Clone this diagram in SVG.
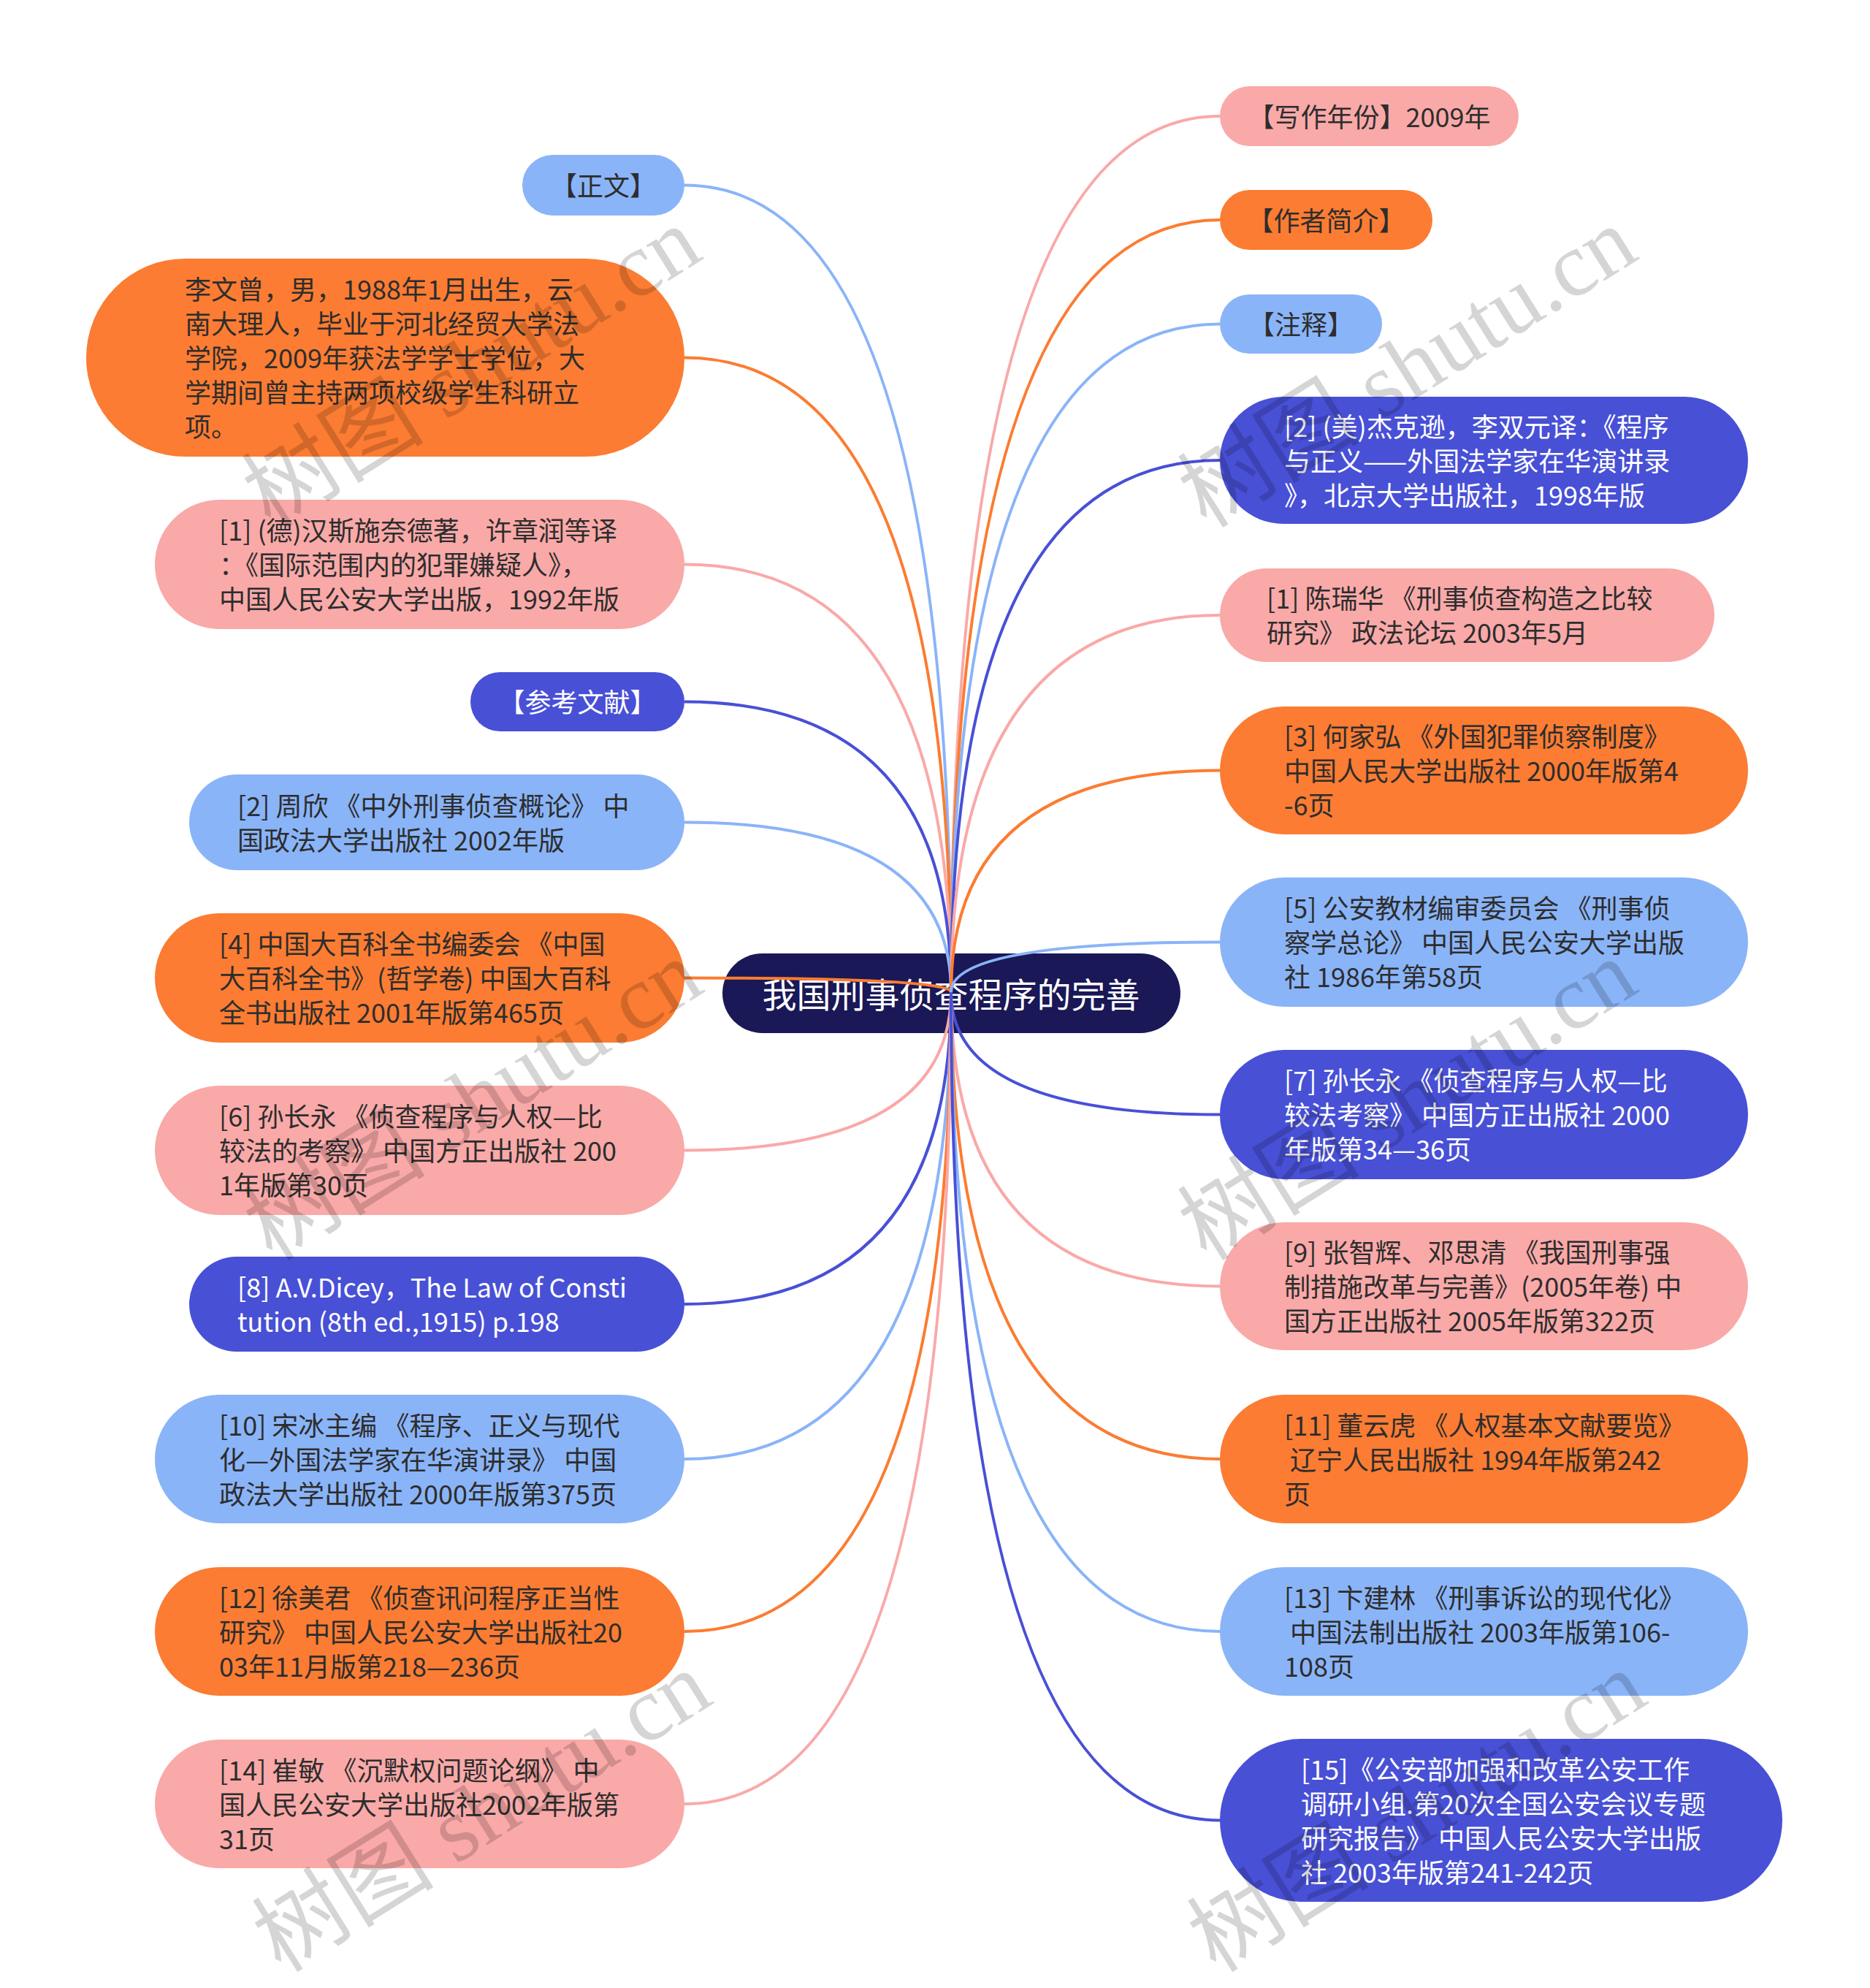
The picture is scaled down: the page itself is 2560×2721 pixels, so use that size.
<svg xmlns="http://www.w3.org/2000/svg" width="2560" height="2721" viewBox="0 0 2560 2721">
<style>
.lb{fill:#8AB4F8}.or{fill:#FB7C32}.pk{fill:#F9A9A8}.in{fill:#4850D6}.ct{fill:#1A1856}
.t{font-family:"Noto Sans CJK SC","Noto Sans",sans-serif;font-size:36px;fill:#2d2d2d;white-space:pre;dominant-baseline:central}
.w{fill:#ffffff}
.m{text-anchor:middle}
#connectors path{fill:none;stroke-width:4}
.slb{stroke:#8AB4F8}.sor{stroke:#FB7C32}.spk{stroke:#F9A9A8}.sin{stroke:#4850D6}
.wm{font-family:"Liberation Serif","Noto Sans CJK SC",serif;font-size:125px;fill:#000;opacity:0.16;text-anchor:middle;dominant-baseline:central}
</style>
<rect width="2560" height="2721" fill="#ffffff"/>
<g id="center">
<rect class="ct" x="989" y="1305" width="627" height="109" rx="54.5"/>
<text class="t w m" x="1302" y="1358" style="font-size:47px">我国刑事侦查程序的完善</text>
</g>
<g id="connectors">
<path class="slb" d="M1302 1358 Q1302 253.5 937 253.5"/>
<path class="sor" d="M1302 1358 Q1302 489.5 937 489.5"/>
<path class="spk" d="M1302 1358 Q1302 772.5 937 772.5"/>
<path class="sin" d="M1302 1358 Q1302 960.5 937 960.5"/>
<path class="slb" d="M1302 1358 Q1302 1125.5 937 1125.5"/>
<path class="sor" d="M1302 1358 Q1302 1338.5 937 1338.5"/>
<path class="spk" d="M1302 1358 Q1302 1574.5 937 1574.5"/>
<path class="sin" d="M1302 1358 Q1302 1785 937 1785"/>
<path class="slb" d="M1302 1358 Q1302 1997 937 1997"/>
<path class="sor" d="M1302 1358 Q1302 2233 937 2233"/>
<path class="spk" d="M1302 1358 Q1302 2469 937 2469"/>
<path class="spk" d="M1302 1358 Q1302 159 1670 159"/>
<path class="sor" d="M1302 1358 Q1302 301 1670 301"/>
<path class="slb" d="M1302 1358 Q1302 443.5 1670 443.5"/>
<path class="sin" d="M1302 1358 Q1302 630 1670 630"/>
<path class="spk" d="M1302 1358 Q1302 842 1670 842"/>
<path class="sor" d="M1302 1358 Q1302 1054.5 1670 1054.5"/>
<path class="slb" d="M1302 1358 Q1302 1289.5 1670 1289.5"/>
<path class="sin" d="M1302 1358 Q1302 1525.5 1670 1525.5"/>
<path class="spk" d="M1302 1358 Q1302 1760.5 1670 1760.5"/>
<path class="sor" d="M1302 1358 Q1302 1997 1670 1997"/>
<path class="slb" d="M1302 1358 Q1302 2233 1670 2233"/>
<path class="sin" d="M1302 1358 Q1302 2491.5 1670 2491.5"/>
</g>
<g id="n-zhengwen">
<rect class="lb" x="715" y="212" width="222" height="83" rx="41.5"/>
<text class="t m" x="826" y="252">【正文】</text>
</g>
<g id="n-author-bio">
<rect class="or" x="118" y="354" width="819" height="271" rx="135.5"/>
<text class="t" x="253" y="394">李文曾，男，1988年1月出生，云</text>
<text class="t" x="253" y="441">南大理人，毕业于河北经贸大学法</text>
<text class="t" x="253" y="488">学院，2009年获法学学士学位，大</text>
<text class="t" x="253" y="535">学期间曾主持两项校级学生科研立</text>
<text class="t" x="253" y="582">项。</text>
</g>
<g id="n-l1">
<rect class="pk" x="212" y="684" width="725" height="177" rx="88.5"/>
<text class="t" x="300" y="724">[1] (德)汉斯施奈德著，许章润等译</text>
<text class="t" x="300" y="771">：《国际范围内的犯罪嫌疑人》，</text>
<text class="t" x="300" y="818">中国人民公安大学出版，1992年版</text>
</g>
<g id="n-refs">
<rect class="in" x="644" y="920" width="293" height="81" rx="40.5"/>
<text class="t w m" x="790.5" y="959">【参考文献】</text>
</g>
<g id="n-l2">
<rect class="lb" x="259" y="1060" width="678" height="131" rx="65.5"/>
<text class="t" x="325" y="1101">[2] 周欣 《中外刑事侦查概论》 中</text>
<text class="t" x="325" y="1148">国政法大学出版社 2002年版</text>
</g>
<g id="n-l4">
<rect class="or" x="212" y="1250" width="725" height="177" rx="88.5"/>
<text class="t" x="300" y="1290">[4] 中国大百科全书编委会 《中国</text>
<text class="t" x="300" y="1337">大百科全书》(哲学卷) 中国大百科</text>
<text class="t" x="300" y="1384">全书出版社 2001年版第465页</text>
</g>
<g id="n-l6">
<rect class="pk" x="212" y="1486" width="725" height="177" rx="88.5"/>
<text class="t" x="300" y="1526">[6] 孙长永 《侦查程序与人权—比</text>
<text class="t" x="300" y="1573">较法的考察》 中国方正出版社 200</text>
<text class="t" x="300" y="1620">1年版第30页</text>
</g>
<g id="n-l8">
<rect class="in" x="259" y="1720" width="678" height="130" rx="65"/>
<text class="t w" x="325" y="1760">[8] A.V.Dicey，The Law of Consti</text>
<text class="t w" x="325" y="1807">tution (8th ed.,1915) p.198</text>
</g>
<g id="n-l10">
<rect class="lb" x="212" y="1909" width="725" height="176" rx="88"/>
<text class="t" x="300" y="1949">[10] 宋冰主编 《程序、正义与现代</text>
<text class="t" x="300" y="1996">化—外国法学家在华演讲录》 中国</text>
<text class="t" x="300" y="2043">政法大学出版社 2000年版第375页</text>
</g>
<g id="n-l12">
<rect class="or" x="212" y="2145" width="725" height="176" rx="88"/>
<text class="t" x="300" y="2185">[12] 徐美君 《侦查讯问程序正当性</text>
<text class="t" x="300" y="2232">研究》 中国人民公安大学出版社20</text>
<text class="t" x="300" y="2279">03年11月版第218—236页</text>
</g>
<g id="n-l14">
<rect class="pk" x="212" y="2381" width="725" height="176" rx="88"/>
<text class="t" x="300" y="2421">[14] 崔敏 《沉默权问题论纲》 中</text>
<text class="t" x="300" y="2468">国人民公安大学出版社2002年版第</text>
<text class="t" x="300" y="2515">31页</text>
</g>
<g id="n-year">
<rect class="pk" x="1670" y="118" width="409" height="82" rx="41"/>
<text class="t m" x="1874.5" y="157.5">【写作年份】2009年</text>
</g>
<g id="n-author">
<rect class="or" x="1670" y="260" width="291" height="82" rx="41"/>
<text class="t m" x="1815.5" y="299.5">【作者简介】</text>
</g>
<g id="n-notes">
<rect class="lb" x="1670" y="403" width="222" height="81" rx="40.5"/>
<text class="t m" x="1781" y="442">【注释】</text>
</g>
<g id="n-r2">
<rect class="in" x="1670" y="543" width="723" height="174" rx="87"/>
<text class="t w" x="1758" y="582">[2] (美)杰克逊，李双元译：《程序</text>
<text class="t w" x="1758" y="629">与正义——外国法学家在华演讲录</text>
<text class="t w" x="1758" y="676">》，北京大学出版社，1998年版</text>
</g>
<g id="n-r1">
<rect class="pk" x="1670" y="778" width="677" height="128" rx="64"/>
<text class="t" x="1734" y="817">[1] 陈瑞华 《刑事侦查构造之比较</text>
<text class="t" x="1734" y="864">研究》 政法论坛 2003年5月</text>
</g>
<g id="n-r3">
<rect class="or" x="1670" y="967" width="723" height="175" rx="87.5"/>
<text class="t" x="1758" y="1006">[3] 何家弘 《外国犯罪侦察制度》</text>
<text class="t" x="1758" y="1053">中国人民大学出版社 2000年版第4</text>
<text class="t" x="1758" y="1100">-6页</text>
</g>
<g id="n-r5">
<rect class="lb" x="1670" y="1201" width="723" height="177" rx="88.5"/>
<text class="t" x="1758" y="1241">[5] 公安教材编审委员会 《刑事侦</text>
<text class="t" x="1758" y="1288">察学总论》 中国人民公安大学出版</text>
<text class="t" x="1758" y="1335">社 1986年第58页</text>
</g>
<g id="n-r7">
<rect class="in" x="1670" y="1437" width="723" height="177" rx="88.5"/>
<text class="t w" x="1758" y="1477">[7] 孙长永 《侦查程序与人权—比</text>
<text class="t w" x="1758" y="1524">较法考察》 中国方正出版社 2000</text>
<text class="t w" x="1758" y="1571">年版第34—36页</text>
</g>
<g id="n-r9">
<rect class="pk" x="1670" y="1673" width="723" height="175" rx="87.5"/>
<text class="t" x="1758" y="1712">[9] 张智辉、邓思清 《我国刑事强</text>
<text class="t" x="1758" y="1759">制措施改革与完善》(2005年卷) 中</text>
<text class="t" x="1758" y="1806">国方正出版社 2005年版第322页</text>
</g>
<g id="n-r11">
<rect class="or" x="1670" y="1909" width="723" height="176" rx="88"/>
<text class="t" x="1758" y="1949">[11] 董云虎 《人权基本文献要览》</text>
<text class="t" x="1758" y="1996"> 辽宁人民出版社 1994年版第242</text>
<text class="t" x="1758" y="2043">页</text>
</g>
<g id="n-r13">
<rect class="lb" x="1670" y="2145" width="723" height="176" rx="88"/>
<text class="t" x="1758" y="2185">[13] 卞建林 《刑事诉讼的现代化》</text>
<text class="t" x="1758" y="2232"> 中国法制出版社 2003年版第106-</text>
<text class="t" x="1758" y="2279">108页</text>
</g>
<g id="n-r15">
<rect class="in" x="1670" y="2380" width="770" height="223" rx="111.5"/>
<text class="t w" x="1781" y="2420">[15]《公安部加强和改革公安工作</text>
<text class="t w" x="1781" y="2467">调研小组.第20次全国公安会议专题</text>
<text class="t w" x="1781" y="2514">研究报告》 中国人民公安大学出版</text>
<text class="t w" x="1781" y="2561">社 2003年版第241-242页</text>
</g>
<g id="watermarks">
<text class="wm" x="646" y="503" transform="rotate(-32 646 503)">树图 shutu.cn</text>
<text class="wm" x="1927" y="503" transform="rotate(-32 1927 503)">树图 shutu.cn</text>
<text class="wm" x="648" y="1506" transform="rotate(-32 648 1506)">树图 shutu.cn</text>
<text class="wm" x="1927" y="1506" transform="rotate(-32 1927 1506)">树图 shutu.cn</text>
<text class="wm" x="660" y="2480" transform="rotate(-32 660 2480)">树图 shutu.cn</text>
<text class="wm" x="1940" y="2480" transform="rotate(-32 1940 2480)">树图 shutu.cn</text>
</g>
</svg>
